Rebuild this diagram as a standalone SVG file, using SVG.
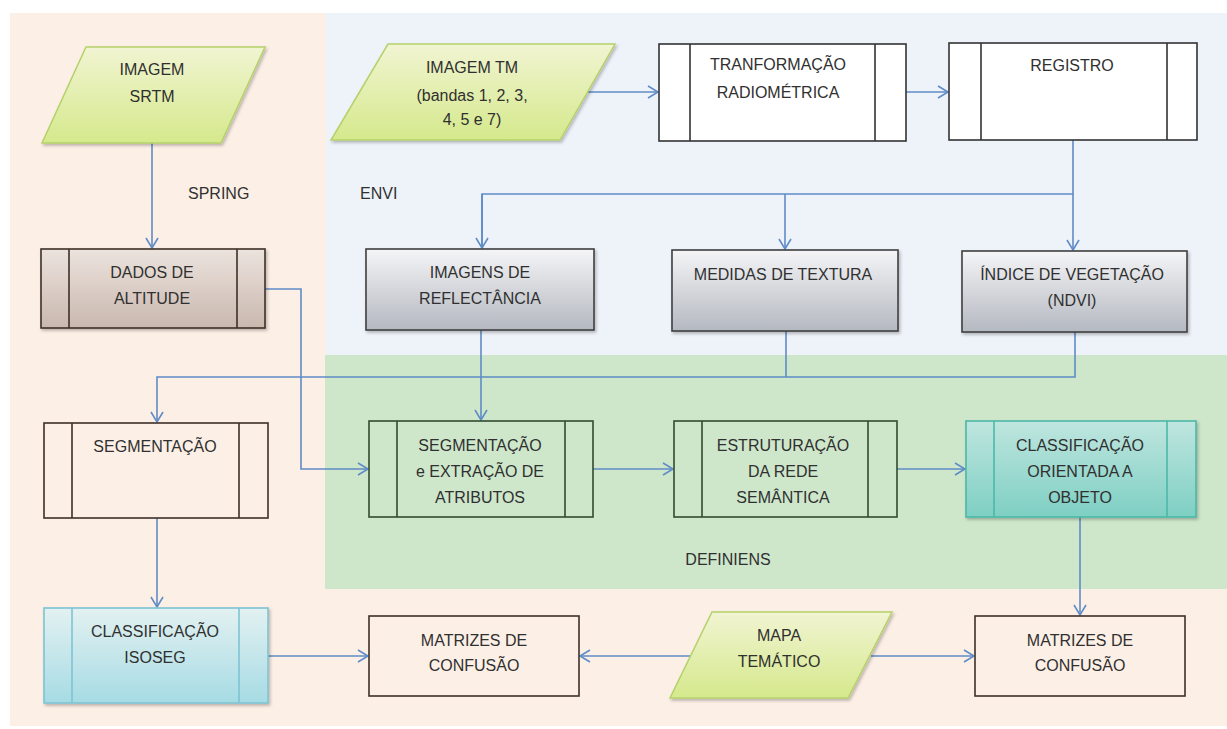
<svg xmlns="http://www.w3.org/2000/svg" width="1227" height="729" viewBox="0 0 1227 729">
<style>
text{font-family:"Liberation Sans",Arial,sans-serif;font-size:16px;fill:#303030;text-anchor:middle}
.lbl{text-anchor:start}
.c{fill:none;stroke:#5f8cc6;stroke-width:1.6}
</style>
<defs>
<linearGradient id="gGreen" x1="0" y1="0" x2="0" y2="1"><stop offset="0" stop-color="#f1f4d2"/><stop offset="1" stop-color="#d5e98c"/></linearGradient>
<linearGradient id="gBrown" x1="0" y1="0" x2="0" y2="1"><stop offset="0" stop-color="#ece3de"/><stop offset="1" stop-color="#c9b8ae"/></linearGradient>
<linearGradient id="gGray" x1="0" y1="0" x2="0" y2="1"><stop offset="0" stop-color="#f5f5f7"/><stop offset="1" stop-color="#b4b8c0"/></linearGradient>
<linearGradient id="gTeal" x1="0" y1="0" x2="0" y2="1"><stop offset="0" stop-color="#bfe6df"/><stop offset="1" stop-color="#7ecfc3"/></linearGradient>
<linearGradient id="gBlue" x1="0" y1="0" x2="0" y2="1"><stop offset="0" stop-color="#e3f1f1"/><stop offset="1" stop-color="#a6dbe4"/></linearGradient>
<filter id="sh" x="-10%" y="-10%" width="130%" height="130%"><feDropShadow dx="1.5" dy="2" stdDeviation="1.5" flood-color="#000" flood-opacity="0.25"/></filter>
<marker id="ar" markerWidth="16" markerHeight="16" refX="11" refY="7" orient="auto" markerUnits="userSpaceOnUse"><path d="M1,1 L11,7 L1,13" fill="none" stroke="#5f8cc6" stroke-width="1.6"/></marker>
</defs>
<rect width="1227" height="729" fill="#ffffff"/>
<rect x="10" y="13" width="1217" height="713" fill="#fcefe6"/>
<rect x="326" y="13" width="901" height="342" fill="#eef2f9"/>
<rect x="325" y="355" width="902" height="234" fill="#cee7cb"/>
<text class="lbl" x="188" y="199">SPRING</text>
<text class="lbl" x="360" y="199">ENVI</text>
<text x="728" y="565">DEFINIENS</text>
<g id="connectors">
<path class="c" d="M152,143 V248" marker-end="url(#ar)"/>
<path class="c" d="M588,92 H658" marker-end="url(#ar)"/>
<path class="c" d="M906,92 H948" marker-end="url(#ar)"/>
<path class="c" d="M1073,140 V194 H482 V248"/>
<path class="c" d="M482,194 V248" marker-end="url(#ar)"/>
<path class="c" d="M785,194 V249" marker-end="url(#ar)"/>
<path class="c" d="M1073,194 V250" marker-end="url(#ar)"/>
<path class="c" d="M265,289 H301 V469 H368" marker-end="url(#ar)"/>
<path class="c" d="M1075,332 V377 H157 V422" marker-end="url(#ar)"/>
<path class="c" d="M786,331 V377"/>
<path class="c" d="M481,330 V420" marker-end="url(#ar)"/>
<path class="c" d="M593,469 H673" marker-end="url(#ar)"/>
<path class="c" d="M897,469 H965" marker-end="url(#ar)"/>
<path class="c" d="M157,518 V607" marker-end="url(#ar)"/>
<path class="c" d="M268,656 H368" marker-end="url(#ar)"/>
<path class="c" d="M690,656 H580" marker-end="url(#ar)"/>
<path class="c" d="M871,656 H974" marker-end="url(#ar)"/>
<path class="c" d="M1080,517 V615" marker-end="url(#ar)"/>
</g>
<g id="n-srtm">
<polygon points="86,47 265,47 221,143 42,143" fill="url(#gGreen)" stroke="#b5d16a" stroke-width="1.5" filter="url(#sh)"/>
<text x="152" y="75">IMAGEM</text><text x="152" y="102">SRTM</text>
</g>
<g id="n-tm">
<polygon points="388,44 615,44 560,140 331,140" fill="url(#gGreen)" stroke="#b5d16a" stroke-width="1.5" filter="url(#sh)"/>
<text x="472" y="73">IMAGEM TM</text><text x="472" y="101">(bandas 1, 2, 3,</text><text x="472" y="125">4, 5 e 7)</text>
</g>
<g id="n-tranf">
<rect x="659" y="44" width="247" height="97" fill="#ffffff" stroke="#333" stroke-width="1.6"/>
<path d="M690,44 V141 M875,44 V141" stroke="#333" stroke-width="1.6"/>
<text x="778" y="70">TRANFORMAÇÃO</text><text x="778" y="98">RADIOMÉTRICA</text>
</g>
<g id="n-registro">
<rect x="949" y="43" width="248" height="97" fill="#ffffff" stroke="#333" stroke-width="1.6"/>
<path d="M981,43 V140 M1167,43 V140" stroke="#333" stroke-width="1.6"/>
<text x="1072" y="71">REGISTRO</text>
</g>
<g id="n-dados">
<rect x="41" y="249" width="224" height="79" fill="url(#gBrown)" stroke="#3e3029" stroke-width="1.6" filter="url(#sh)"/>
<path d="M69,249 V328 M237,249 V328" stroke="#3e3029" stroke-width="1.6"/>
<text x="152" y="278">DADOS DE</text><text x="152" y="304">ALTITUDE</text>
</g>
<g id="n-refl">
<rect x="366" y="249" width="228" height="81" fill="url(#gGray)" stroke="#404040" stroke-width="1.6" filter="url(#sh)"/>
<text x="480" y="278">IMAGENS DE</text><text x="480" y="304">REFLECTÂNCIA</text>
</g>
<g id="n-textura">
<rect x="672" y="250" width="226" height="81" fill="url(#gGray)" stroke="#404040" stroke-width="1.6" filter="url(#sh)"/>
<text x="783" y="280">MEDIDAS DE TEXTURA</text>
</g>
<g id="n-ndvi">
<rect x="962" y="251" width="225" height="81" fill="url(#gGray)" stroke="#404040" stroke-width="1.6" filter="url(#sh)"/>
<text x="1072" y="280">ÍNDICE DE VEGETAÇÃO</text><text x="1072" y="306">(NDVI)</text>
</g>
<g id="n-seg">
<rect x="44" y="423" width="224" height="95" fill="#fcefe6" stroke="#3e3029" stroke-width="1.6"/>
<path d="M72,423 V518 M239,423 V518" stroke="#3e3029" stroke-width="1.6"/>
<text x="155" y="452">SEGMENTAÇÃO</text>
</g>
<g id="n-segext">
<rect x="369" y="421" width="224" height="96" fill="#cee7cb" stroke="#324a2e" stroke-width="1.6"/>
<path d="M397,421 V517 M565,421 V517" stroke="#324a2e" stroke-width="1.6"/>
<text x="480" y="451">SEGMENTAÇÃO</text><text x="480" y="477">e EXTRAÇÃO DE</text><text x="480" y="503">ATRIBUTOS</text>
</g>
<g id="n-estr">
<rect x="674" y="421" width="223" height="96" fill="#cee7cb" stroke="#324a2e" stroke-width="1.6"/>
<path d="M702,421 V517 M868,421 V517" stroke="#324a2e" stroke-width="1.6"/>
<text x="783" y="451">ESTRUTURAÇÃO</text><text x="783" y="477">DA REDE</text><text x="783" y="503">SEMÂNTICA</text>
</g>
<g id="n-classobj">
<rect x="966" y="421" width="230" height="96" fill="url(#gTeal)" stroke="#4cb8a8" stroke-width="1.6" filter="url(#sh)"/>
<path d="M994,421 V517 M1167,421 V517" stroke="#4cb8a8" stroke-width="1.6"/>
<text x="1080" y="451">CLASSIFICAÇÃO</text><text x="1080" y="477">ORIENTADA A</text><text x="1080" y="503">OBJETO</text>
</g>
<g id="n-isoseg">
<rect x="44" y="608" width="224" height="95" fill="url(#gBlue)" stroke="#7ec4d4" stroke-width="1.6" filter="url(#sh)"/>
<path d="M72,608 V703 M239,608 V703" stroke="#7ec4d4" stroke-width="1.6"/>
<text x="155" y="637">CLASSIFICAÇÃO</text><text x="155" y="663">ISOSEG</text>
</g>
<g id="n-mat1">
<rect x="369" y="616" width="210" height="80" fill="#fcefe6" stroke="#3e3029" stroke-width="1.6"/>
<text x="474" y="646">MATRIZES DE</text><text x="474" y="671">CONFUSÃO</text>
</g>
<g id="n-mapa">
<polygon points="712,612 892,612 848,698 670,698" fill="url(#gGreen)" stroke="#b5d16a" stroke-width="1.5" filter="url(#sh)"/>
<text x="779" y="641">MAPA</text><text x="779" y="667">TEMÁTICO</text>
</g>
<g id="n-mat2">
<rect x="975" y="616" width="210" height="80" fill="#fcefe6" stroke="#3e3029" stroke-width="1.6"/>
<text x="1080" y="646">MATRIZES DE</text><text x="1080" y="671">CONFUSÃO</text>
</g>
</svg>
